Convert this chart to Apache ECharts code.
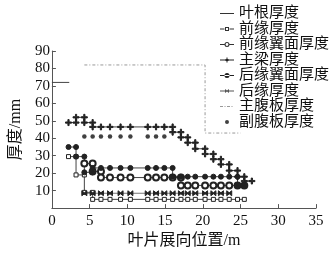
<!DOCTYPE html>
<html lang="zh">
<head>
<meta charset="UTF-8">
<title>叶片厚度</title>
<script src="https://cdn.jsdelivr.net/npm/echarts@6/dist/echarts.min.js"></script>
<style>
  html, body { margin: 0; padding: 0; background: #fff; }
  #chart { width: 335px; height: 254px; }
</style>
</head>
<body>
<div id="chart"></div>
<script>
  // 数据 (x: 展向位置 m, y: 厚度 mm)
  const seriesNames = ['叶根厚度', '前缘厚度', '前缘翼面厚度', '主梁厚度', '后缘翼面厚度', '后缘厚度', '主腹板厚度', '副腹板厚度'];
  const xTicks = [0, 5, 10, 15, 20, 25, 30, 35];
  const yTicks = [10, 20, 30, 40, 50, 60, 70, 80, 90];

  const rootThk = [[0, 72], [2.3, 72]];
  const leThk = [[2.2, 29.5], [3.2, 29.5], [3.2, 19], [4.3, 19], [4.3, 9], [5.4, 9], [5.4, 5], [6.5, 5], [7.7, 5], [9.1, 5], [10.4, 5],
    [12.7, 5], [13.8, 5], [14.9, 5], [16.0, 5], [17.1, 5], [18.0, 5], [19.0, 5], [20.3, 5], [21.4, 5], [22.4, 5], [23.5, 5], [24.6, 5], [25.5, 5]];
  const leSkinThk = [[4.3, 25.5], [5.4, 25.5], [5.4, 21], [6.5, 21], [6.5, 17.5], [7.7, 17.5], [9.1, 17.5], [10.4, 17.5],
    [12.7, 17.5], [13.8, 17.5], [14.9, 17.5], [16.0, 17.5], [17.1, 17.5], [17.1, 13], [18.0, 13], [19.0, 13], [20.3, 13],
    [21.4, 13], [22.4, 13], [23.5, 13], [24.6, 13], [25.5, 13]];
  const sparThk = [[2.2, 49], [3.2, 49], [3.2, 52], [4.3, 52], [4.3, 49], [5.4, 49], [5.4, 46.5], [6.5, 46.5], [7.7, 46.5],
    [9.1, 46.5], [10.4, 46.5], [12.7, 46.5], [13.8, 46.5], [14.9, 46.5], [16.0, 46.5], [16.0, 43.5], [17.1, 43.5], [17.1, 40.5],
    [18.0, 40.5], [18.0, 37.5], [19.0, 37.5], [19.0, 34], [20.3, 34], [20.3, 31], [21.4, 31], [21.4, 28], [22.4, 28], [22.4, 25],
    [23.5, 25], [23.5, 21.5], [24.6, 21.5], [24.6, 18], [25.5, 18], [25.5, 15.5], [26.5, 15.5]];
  const teSkinThk = [[2.2, 35], [3.2, 35], [3.2, 29.5], [4.3, 29.5], [4.3, 20.5], [5.4, 20.5], [5.4, 23], [6.5, 23], [7.7, 23],
    [9.1, 23], [10.4, 23], [12.7, 23], [13.8, 23], [14.9, 23], [16.0, 23], [16.0, 18], [17.1, 18], [18.0, 18], [19.0, 18],
    [20.3, 18], [21.4, 18], [22.4, 18], [23.5, 18], [24.6, 18], [24.6, 13], [25.5, 13]];
  const teThk = [[4.3, 8.5], [5.4, 8.5], [6.5, 8.5], [7.7, 8.5], [9.1, 8.5], [10.4, 8.5], [12.7, 8.5], [13.8, 8.5], [14.9, 8.5],
    [16.0, 8.5], [17.1, 8.5], [18.0, 8.5], [19.0, 8.5], [20.3, 8.5], [21.4, 8.5], [22.4, 8.5], [23.5, 8.5]];
  const mainWebThk = [[4.3, 82], [20.3, 82], [20.3, 43], [25, 43]];
  const auxWebThk = [[4.3, 41], [5.4, 41], [6.5, 41], [7.7, 41], [9.1, 41], [10.4, 41], [12.7, 41], [13.8, 41], [14.9, 41]];

  const font = "'Liberation Serif', 'Noto Sans CJK SC', serif";
  const lineColor = '#444';
  const dotColor = '#222';

  // 标记符号
  const plusIcon = 'path://M4,0H6V4H10V6H6V10H4V6H0V4H4Z';
  const bowIcon = 'path://M0,0L5,4L10,0V10L5,6L0,10Z';

  // 图例图标 14x6 (线 + 标记)
  const box = 'M7,0L7.01,0L7,0.01Z M7,6L7.01,6L7,5.99Z M0,3L0.01,3L0,3.01Z M14,3L13.99,3L14,3.01Z ';
  const fullLine = 'M0,2.5H14V3.5H0Z ';
  const sideLine = 'M0,2.5H4.5V3.5H0Z M9.5,2.5H14V3.5H9.5Z ';
  const legendIcons = [
    'path://' + box + fullLine,
    'path://' + box + sideLine + 'M5,1H9V5H5Z M6,2V4H8V2Z',
    'path://' + box + sideLine + 'M4.5,3A2.5,2.5 0 1,0 9.5,3A2.5,2.5 0 1,0 4.5,3Z M5.6,3A1.4,1.4 0 1,1 8.4,3A1.4,1.4 0 1,1 5.6,3Z',
    'path://' + box + fullLine + 'M6.5,0.5H7.5V5.5H6.5Z M5.5,2H8.5V4H5.5Z',
    'path://' + box + fullLine + 'M4.5,3A2.5,2.5 0 1,0 9.5,3A2.5,2.5 0 1,0 4.5,3Z',
    'path://' + box + fullLine + 'M5,1L7,2.5L9,1V5L7,3.5L5,5Z',
    'path://' + box + 'M0,2.5H3V3.5H0Z M4.5,2.5H5.5V3.5H4.5Z M7,2.5H10V3.5H7Z M11.5,2.5H12.5V3.5H11.5Z',
    'path://' + box + 'M5,3A2,2 0 1,0 9,3A2,2 0 1,0 5,3Z'
  ];
  const legendColors = ['#333', '#333', '#333', '#222', '#222', '#555', '#999', '#111'];

  function lineSeries(name, data, symbol, size, extra) {
    return Object.assign({
      name: name,
      type: 'line',
      data: data,
      symbol: symbol,
      symbolSize: size,
      showAllSymbol: true,
      lineStyle: { color: lineColor, width: 1 },
      itemStyle: { color: dotColor, borderColor: dotColor, borderWidth: 1 },
      animation: false
    }, extra || {});
  }

  const chart = echarts.init(document.getElementById('chart'));

  chart.setOption({
    backgroundColor: '#fff',
    animation: false,
    textStyle: { fontFamily: font },
    grid: { left: 47, right: 19, top: 51, bottom: 42 },
    legend: {
      orient: 'vertical',
      left: 220,
      top: 6,
      padding: 0,
      itemWidth: 14,
      itemHeight: 6,
      itemGap: 0.5,
      itemStyle: { borderWidth: 0 },
      data: seriesNames.map((n, i) => ({ name: n, icon: legendIcons[i], itemStyle: { color: legendColors[i], borderWidth: 0 } })),
      textStyle: { fontFamily: font, fontSize: 15, color: '#111' }
    },
    xAxis: {
      type: 'value',
      min: 0,
      max: 35,
      interval: 5,
      name: '叶片展向位置/m',
      nameLocation: 'middle',
      nameGap: 24,
      nameTextStyle: { fontFamily: font, fontSize: 16, color: '#111' },
      axisLine: { lineStyle: { color: '#555', width: 1 } },
      axisTick: { inside: true, length: 4, lineStyle: { color: '#555' } },
      axisLabel: { fontFamily: font, fontSize: 15, color: '#111', margin: 5,
        formatter: v => xTicks.indexOf(v) >= 0 ? String(v) : '' },
      splitLine: { show: false }
    },
    yAxis: {
      type: 'value',
      min: 0,
      max: 90,
      interval: 10,
      name: '厚度/mm',
      nameLocation: 'middle',
      nameRotate: 90,
      nameGap: 24,
      nameTextStyle: { fontFamily: font, fontSize: 16, color: '#111' },
      axisLine: { show: true, lineStyle: { color: '#555', width: 1 } },
      axisTick: { show: true, inside: true, length: 4, lineStyle: { color: '#555' } },
      axisLabel: { fontFamily: font, fontSize: 15, color: '#111', margin: 2,
        formatter: v => yTicks.indexOf(v) >= 0 ? String(v) : '' },
      splitLine: { show: false }
    },
    series: [
      lineSeries(seriesNames[0], rootThk, 'none', 0),
      lineSeries(seriesNames[1], leThk, 'rect', 4, { itemStyle: { color: '#fff', borderColor: dotColor, borderWidth: 1 } }),
      lineSeries(seriesNames[2], leSkinThk, 'emptyCircle', 6),
      lineSeries(seriesNames[3], sparThk, plusIcon, 6),
      lineSeries(seriesNames[4], teSkinThk, 'circle', 5),
      lineSeries(seriesNames[5], teThk, bowIcon, 5, { lineStyle: { color: '#777', width: 1 } }),
      lineSeries(seriesNames[6], mainWebThk, 'none', 0, { lineStyle: { color: '#999', width: 1, type: [3, 2, 1, 2] } }),
      {
        name: seriesNames[7],
        type: 'scatter',
        data: auxWebThk,
        symbol: 'circle',
        symbolSize: 4.5,
        itemStyle: { color: '#111' },
        animation: false
      }
    ]
  });
</script>
</body>
</html>
